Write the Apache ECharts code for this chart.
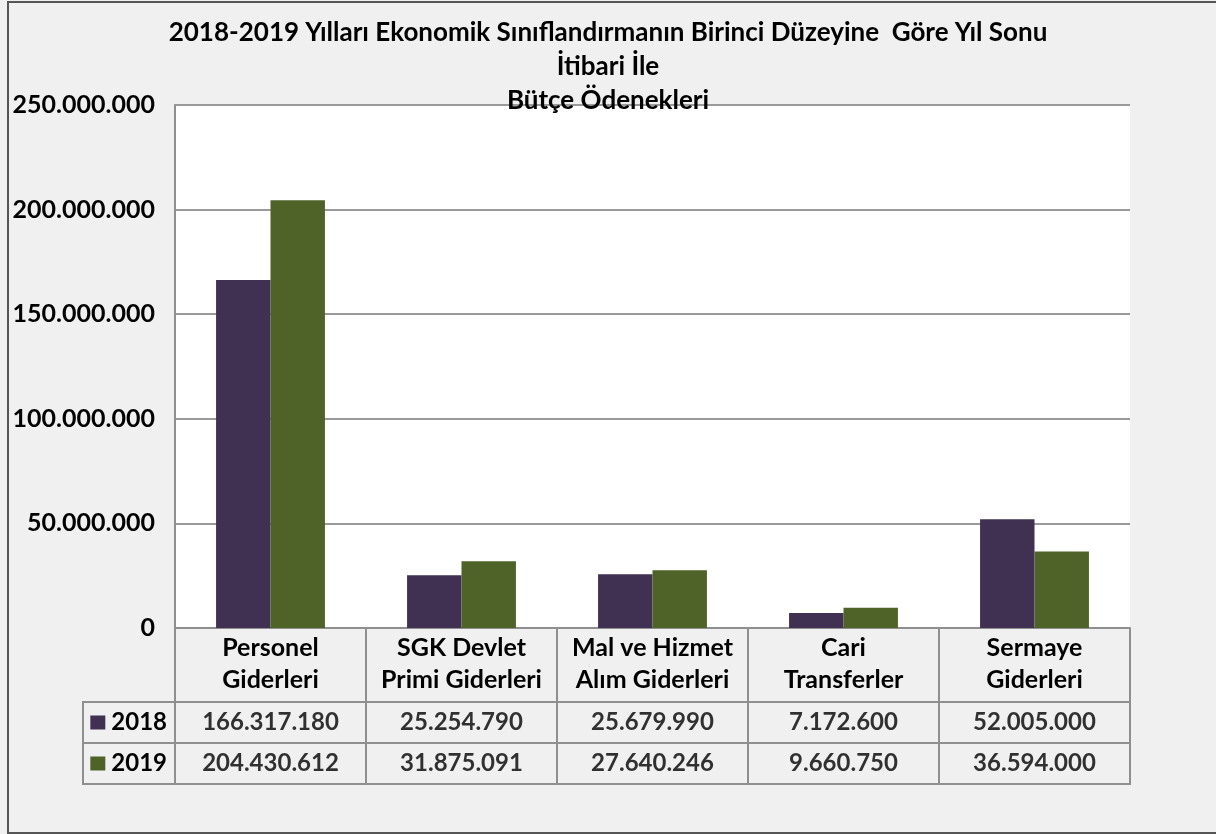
<!DOCTYPE html>
<html>
<head>
<meta charset="utf-8">
<script src="https://cdn.jsdelivr.net/npm/echarts@6/dist/echarts.min.js"></script>
<style>
html,body{margin:0;padding:0;background:#f0f0f0;}
#c{width:1216px;height:834px;}
</style>
</head>
<body>
<div id="c"></div>
<script>
var titleText = '2018-2019 Yılları Ekonomik Sınıflandırmanın Birinci Düzeyine  Göre Yıl Sonu\nİtibari İle\nBütçe Ödenekleri';
var categories = ['Personel\nGiderleri', 'SGK Devlet\nPrimi Giderleri', 'Mal ve Hizmet\nAlım Giderleri', 'Cari\nTransferler', 'Sermaye\nGiderleri'];
var years = ['2018', '2019'];
var values2018 = [166317180, 25254790, 25679990, 7172600, 52005000];
var values2019 = [204430612, 31875091, 27640246, 9660750, 36594000];
var colors = ['#403152', '#4F6228'];
var yMax = 250000000, yInterval = 50000000;

function fmt(v){ return String(Math.round(v)).replace(/\B(?=(\d{3})+(?!\d))/g, '.'); }

var FONT = 'Lato';
var seriesVals = [values2018, values2019];
var tableData = [];
years.forEach(function(y, yi){
  categories.forEach(function(c, ci){ tableData.push([ci, yi, seriesVals[yi][ci]]); });
});

var chart = echarts.init(document.getElementById('c'));
var lineCol = '#8f8f8f';
var richLbl = {
  t: {fontFamily: FONT, fontWeight: 'bold', fontSize: 24, color: '#000', padding: [0,0,0,6]}
};
years.forEach(function(y, i){ richLbl['s' + i] = {backgroundColor: colors[i], width: 15, height: 14}; });

chart.setOption({
  backgroundColor: '#f0f0f0',
  animation: false,
  title: {
    text: titleText, left: 'center', top: 16, padding: 0,
    textStyle: {fontFamily: FONT, fontWeight: 'bold', fontSize: 26, lineHeight: 34, color: '#000'}
  },
  graphic: [{type: 'rect', shape: {x: 8, y: 2, width: 1230, height: 831}, style: {fill: 'none', stroke: '#555', lineWidth: 2}, z: 100}],
  grid: [
    {left: 175, width: 955, top: 105, height: 523, show: true, backgroundColor: '#fff', borderWidth: 0},
    {left: 175, width: 955, top: 702, height: 82, show: true, backgroundColor: 'transparent', borderColor: lineCol, borderWidth: 2},
    {left: 83, width: 92, top: 702, height: 82, show: true, backgroundColor: 'transparent', borderColor: lineCol, borderWidth: 2}
  ],
  xAxis: [
    {gridIndex: 0, type: 'category', data: categories,
     axisLine: {lineStyle: {color: lineCol, width: 2}},
     axisTick: {show: true, alignWithLabel: false, length: 74, lineStyle: {color: lineCol, width: 2}},
     axisLabel: {interval: 0, margin: 4, fontFamily: FONT, fontWeight: 'bold', fontSize: 25, lineHeight: 32, color: '#000'}},
    {gridIndex: 1, type: 'category', data: categories,
     axisLine: {show: false}, axisTick: {show: false}, axisLabel: {show: false},
     splitLine: {show: true, lineStyle: {color: lineCol, width: 2}}},
    {gridIndex: 2, type: 'category', data: [''],
     axisLine: {show: false}, axisTick: {show: false}, axisLabel: {show: false}, splitLine: {show: false}}
  ],
  yAxis: [
    {gridIndex: 0, type: 'value', min: 0, max: yMax, interval: yInterval,
     axisLine: {show: true, lineStyle: {color: lineCol, width: 2}}, axisTick: {show: false},
     splitLine: {lineStyle: {color: '#9a9a9a', width: 2}},
     axisLabel: {margin: 20, formatter: fmt, fontFamily: FONT, fontWeight: 'bold', fontSize: 25, color: '#000'}},
    {gridIndex: 1, type: 'category', data: years, inverse: true,
     axisLine: {show: false}, axisTick: {show: false},
     splitLine: {show: true, lineStyle: {color: lineCol, width: 2}},
     axisLabel: {margin: 8, formatter: function(v, i){ return '{s' + i + '|}{t|' + v + '}'; }, rich: richLbl}},
    {gridIndex: 2, type: 'category', data: years, inverse: true,
     axisLine: {show: false}, axisTick: {show: false}, axisLabel: {show: false},
     splitLine: {show: true, lineStyle: {color: lineCol, width: 2}}}
  ],
  series: [
    {name: years[0], type: 'bar', xAxisIndex: 0, yAxisIndex: 0, data: values2018, barGap: '0%', barCategoryGap: '43%',
     itemStyle: {color: colors[0]}},
    {name: years[1], type: 'bar', xAxisIndex: 0, yAxisIndex: 0, data: values2019, barGap: '0%', barCategoryGap: '43%',
     itemStyle: {color: colors[1]}},
    {type: 'scatter', xAxisIndex: 1, yAxisIndex: 1, symbolSize: 0, data: tableData,
     label: {show: true, position: 'inside', formatter: function(p){ return fmt(p.value[2]); },
             fontFamily: FONT, fontWeight: 'bold', fontSize: 24, color: '#000'}}
  ]
});
</script>
</body>
</html>
